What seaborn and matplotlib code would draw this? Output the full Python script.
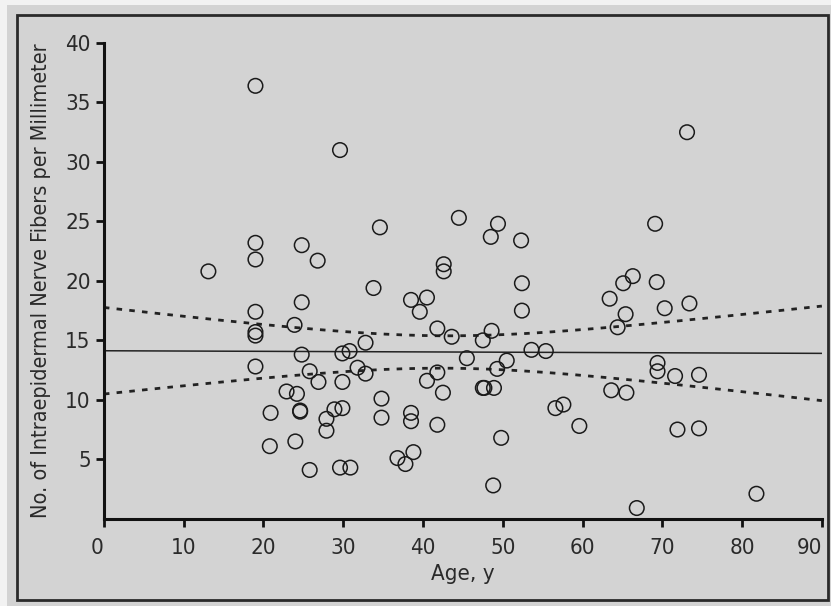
import numpy as np
import pandas as pd
import matplotlib
matplotlib.use("Agg")
import matplotlib.pyplot as plt
from matplotlib.patches import Rectangle
import seaborn as sns

# values
age = [19, 29.6, 73.1, 13.1, 19, 19, 19, 19, 19, 19,
       24.8, 26.8, 24.8, 23.9, 24.8, 25.8, 26.9, 22.9, 24.2, 20.9,
       24.6, 24.6, 20.8, 24.0, 25.8, 27.9, 27.9, 28.9, 29.9, 29.9,
       29.9, 30.8, 31.8, 32.8, 32.8, 29.6, 30.9, 33.8, 34.6, 34.8,
       34.8, 36.8, 37.8, 38.8, 38.5, 38.5, 38.5, 40.5, 39.6, 40.5,
       41.8, 41.8, 41.8, 42.6, 42.6, 42.5, 43.6, 44.5, 45.5, 47.5,
       47.5, 47.7, 48.6, 48.5, 49.4, 48.9, 49.3, 49.8, 50.5, 48.8,
       52.3, 52.4, 52.4, 53.6, 55.4, 56.6, 57.6, 59.6, 63.4, 63.6,
       64.4, 65.4, 65.1, 66.3, 65.5, 66.8, 69.3, 69.1, 69.4, 69.4,
       70.3, 71.6, 71.9, 73.4, 74.6, 74.6, 81.8]
fibers = [36.4, 31.0, 32.5, 20.8, 23.2, 21.8, 17.4, 15.7, 15.4, 12.8,
          23.0, 21.7, 18.2, 16.3, 13.8, 12.4, 11.5, 10.7, 10.5, 8.9,
          9.0, 9.1, 6.1, 6.5, 4.1, 8.4, 7.4, 9.2, 9.3, 11.5,
          13.9, 14.1, 12.7, 12.2, 14.8, 4.3, 4.3, 19.4, 24.5, 10.1,
          8.5, 5.1, 4.6, 5.6, 8.9, 8.2, 18.4, 18.6, 17.4, 11.6,
          12.3, 7.9, 16.0, 21.4, 20.8, 10.6, 15.3, 25.3, 13.5, 15.0,
          11.0, 11.0, 15.8, 23.7, 24.8, 11.0, 12.6, 6.8, 13.3, 2.8,
          23.4, 19.8, 17.5, 14.2, 14.1, 9.3, 9.6, 7.8, 18.5, 10.8,
          16.1, 17.2, 19.8, 20.4, 10.6, 0.9, 19.9, 24.8, 13.1, 12.4,
          17.7, 12.0, 7.5, 18.1, 12.1, 7.6, 2.1]
x_ticks = [0, 10, 20, 30, 40, 50, 60, 70, 80, 90]
y_ticks = [5, 10, 15, 20, 25, 30, 35, 40]

df = pd.DataFrame({"age": age, "fibers": fibers})

# least squares fit with 95% confidence band
x = df["age"].to_numpy()
y = df["fibers"].to_numpy()
n = len(x)
slope, intercept = np.polyfit(x, y, 1)
resid = y - (intercept + slope * x)
s = np.sqrt(np.sum(resid ** 2) / (n - 2))
sxx = np.sum((x - x.mean()) ** 2)
grid = np.linspace(0, 90, 200)
fit = intercept + slope * grid
se = s * np.sqrt(1 / n + (grid - x.mean()) ** 2 / sxx)
t = 1.985
band = pd.DataFrame({"age": grid, "fit": fit, "lo": fit - t * se, "hi": fit + t * se})

bg = "#d3d3d3"
sns.set_style("ticks")
plt.rcParams["font.family"] = ["DejaVu Sans"]
plt.rcParams["font.stretch"] = "condensed"

fig = plt.figure(figsize=(8.31, 6.06), dpi=100, facecolor="#f2f2f2")
# gray screen area and photo frame, kept behind the axes
fig.patches.append(Rectangle((7 / 831, 0), 824 / 831, 601 / 606,
                             transform=fig.transFigure, facecolor=bg,
                             edgecolor="none", zorder=-3))
fig.patches.append(Rectangle((17 / 831, 1 - 600 / 606), 811 / 831, 585 / 606,
                             transform=fig.transFigure, fill=False,
                             edgecolor="#2a2a2a", linewidth=2, zorder=-2))

ax = fig.add_axes([0.125, 0.144, 0.864, 0.785])
ax.set_facecolor(bg)

sns.scatterplot(data=df, x="age", y="fibers", ax=ax, s=110, marker="o",
                facecolor="none", edgecolor="#1a1a1a", linewidth=1.1, zorder=3)
sns.lineplot(data=band, x="age", y="fit", ax=ax, color="#222222", linewidth=1.1)
for col in ["lo", "hi"]:
    sns.lineplot(data=band, x="age", y=col, ax=ax, color="#222222", linewidth=2)
    ax.lines[-1].set_linestyle((0, (2, 2.6)))

ax.set_xlim(0, 90)
ax.set_ylim(0, 40)
ax.set_xticks(x_ticks)
ax.set_yticks(y_ticks)
for side in ["top", "right"]:
    ax.spines[side].set_visible(False)
for side in ["left", "bottom"]:
    ax.spines[side].set_linewidth(2.2)
    ax.spines[side].set_color("#111111")
ax.tick_params(axis="both", width=2, length=6, color="#111111",
               labelsize=16, labelcolor="#2a2a2a")
ax.tick_params(axis="x", pad=8)
ax.get_xticklabels()[0].set_horizontalalignment("right")
ax.get_xticklabels()[-1].set_horizontalalignment("right")

ax.set_xlabel("Age, y", fontsize=16, color="#2a2a2a", labelpad=4)
ax.set_ylabel("No. of Intraepidermal Nerve Fibers per Millimeter",
              fontsize=15.5, color="#2a2a2a", labelpad=10)

fig.savefig("out.png", dpi=100, facecolor=fig.get_facecolor())
